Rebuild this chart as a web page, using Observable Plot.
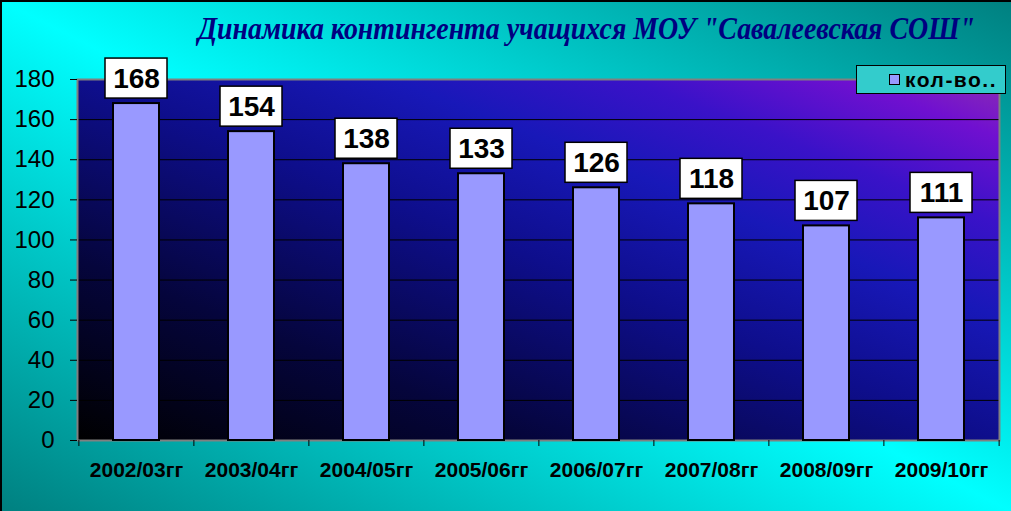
<!DOCTYPE html>
<html><head><meta charset="utf-8">
<script src="https://cdn.jsdelivr.net/npm/d3@7"></script>
<script src="https://cdn.jsdelivr.net/npm/@observablehq/plot@0.6"></script>
<style>
html,body{margin:0;padding:0;background:#fff;}
#wrap{position:relative;width:1011px;height:511px;overflow:hidden;
  background:linear-gradient(to top right,#008080 0%,#00ffff 50%,#008080 100%);
  box-shadow:inset 2px 2px 0 #000;font-family:"Liberation Sans",Arial,sans-serif;}
#wrap svg{position:absolute;left:0;top:0;}
#title{position:absolute;left:198px;top:12px;white-space:nowrap;font-family:"Liberation Serif",serif;
  font-style:italic;font-weight:bold;font-size:32px;line-height:32px;color:#000080;transform-origin:0 0;z-index:2;}
#legend{position:absolute;left:856px;top:65px;width:148px;height:27px;background:#33cccc;border:1px solid #000;
  display:flex;align-items:center;box-sizing:content-box;z-index:2;}
#legend .sw{width:9px;height:9px;background:#9999ff;border:1px solid #000;margin-left:32px;margin-right:5px;}
#legend .lb{font-weight:bold;font-size:21px;color:#000;letter-spacing:1.5px;}
</style></head>
<body>
<div id="wrap">
  <div id="title"></div>
  <div id="legend"><div class="sw"></div><div class="lb"></div></div>
</div>
<script>
const categories = ["2002/03гг","2003/04гг","2004/05гг","2005/06гг","2006/07гг","2007/08гг","2008/09гг","2009/10гг"];
const values = [168,154,138,133,126,118,107,111];
const yTicks = [0,20,40,60,80,100,120,140,160,180];
const seriesName = "кол-во..";
const titleText = "Динамика контингента учащихся МОУ \"Савалеевская СОШ\"";

const data = categories.map((c,i)=>({year:c, count:values[i]}));

const W = 1011, H = 511, mL = 77, mR = 12, mT = 79, mB = 71;
const halfStep = (W - mL - mR) / categories.length / 2;

const svg = Plot.plot({
  width: W, height: H, marginTop: mT, marginLeft: mL, marginRight: mR, marginBottom: mB,
  style: {background: "transparent", fontFamily: "Liberation Sans, Arial, sans-serif", color: "black"},
  x: {domain: categories, paddingInner: 0.6, paddingOuter: 0.3, axis: null, label: null},
  y: {domain: [0, 180], axis: null, label: null},
  marks: [
    Plot.frame({fill: "url(#plotBg)", stroke: "none"}),
    Plot.ruleY(yTicks.filter(t => t > 0), {stroke: "black", strokeWidth: 1}),
    Plot.frame({stroke: "#808080", strokeWidth: 2}),
    Plot.barY(data, {x: "year", y: "count", fill: "#9999ff", stroke: "black", strokeWidth: 2}),
    Plot.axisY(yTicks, {tickSize: 7, tickPadding: 16, fontSize: 24, stroke: "black", fill: "black", label: null}),
    Plot.axisX({tickSize: 6, fill: "none", stroke: "black", dx: -halfStep, label: null}),
    Plot.axisX([categories[categories.length - 1]], {tickSize: 6, fill: "none", stroke: "black", dx: halfStep, label: null}),
    Plot.axisX({tickSize: 0, tickPadding: 22, fontSize: 21, fontWeight: "bold", fill: "black", label: null}),
    Plot.barY(data, {x: "year", y1: "count", y2: "count", fill: "white", stroke: "black", strokeWidth: 1.5,
      insetTop: -45, insetBottom: 5, insetLeft: -8, insetRight: -8}),
    Plot.text(data, {x: "year", y: "count", text: d => String(d.count), dy: -25, fontSize: 28, fontWeight: "bold", fill: "black", lineAnchor: "middle"})
  ]
});

const defs = d3.select(svg).insert("defs", ":first-child");
const lg = defs.append("linearGradient").attr("id", "plotBg")
  .attr("x1", 0).attr("y1", 1).attr("x2", 1).attr("y2", 0);
[[0, "#000000"], [0.25, "#05053c"], [0.5, "#0e0e8c"], [0.67, "#1818b8"], [0.8, "#3a12c8"], [0.92, "#7010d0"], [1, "#8a2cb4"]]
  .forEach(([o, c]) => lg.append("stop").attr("offset", o).attr("stop-color", c));

const wrap = document.getElementById("wrap");
wrap.insertBefore(svg, wrap.firstChild);

document.querySelector("#legend .lb").textContent = seriesName;
const t = document.getElementById("title");
t.textContent = titleText;
const w = t.getBoundingClientRect().width;
t.style.transform = `scaleX(${777 / w})`;
</script>
</body></html>
